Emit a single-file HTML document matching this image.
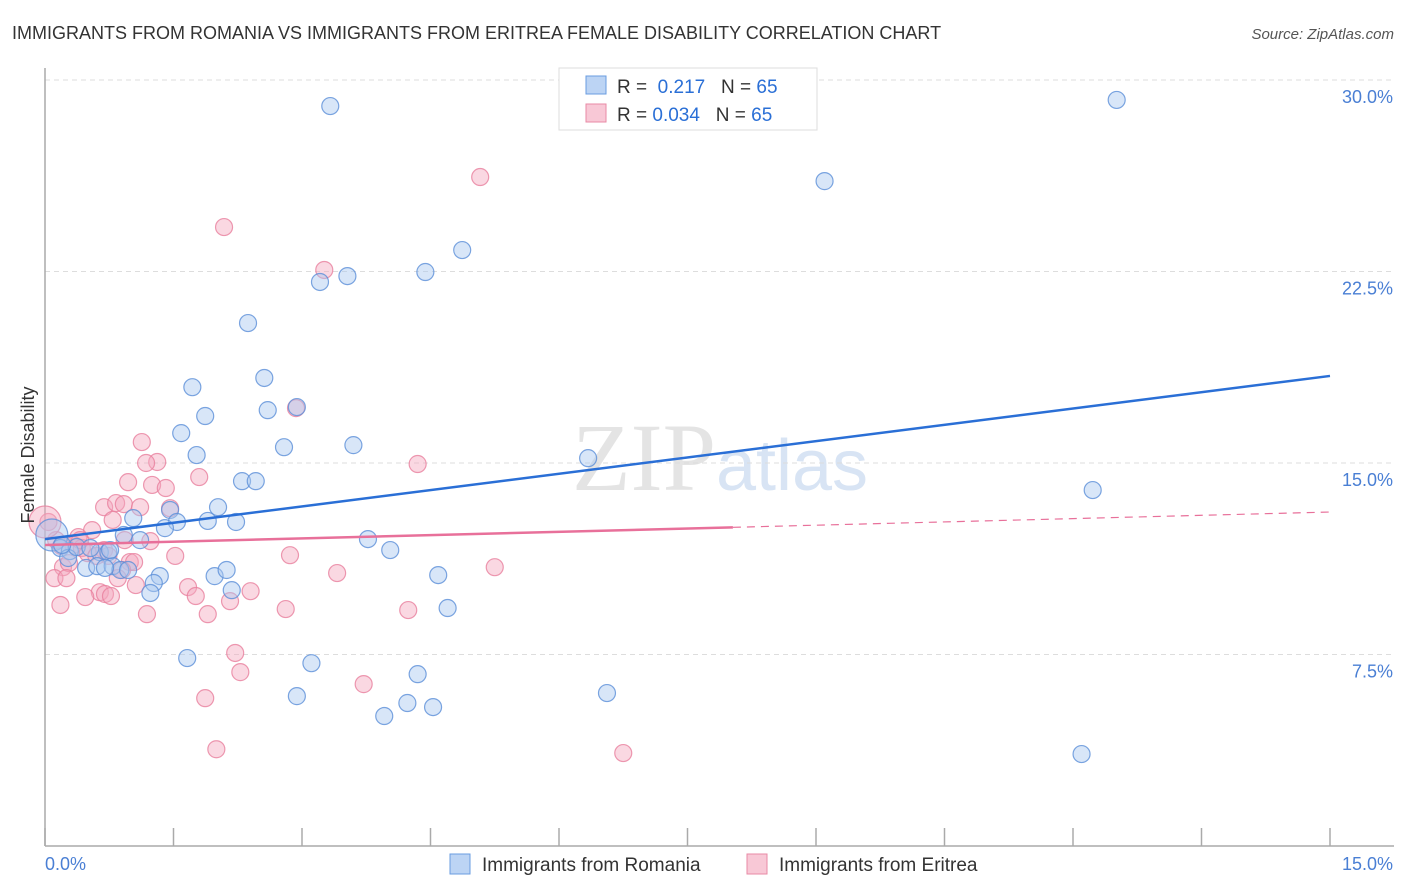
<!DOCTYPE html>
<html><head><meta charset="utf-8"><style>
body{margin:0;background:#fff;font-family:"Liberation Sans",sans-serif}
</style></head><body>
<svg width="1406" height="892" viewBox="0 0 1406 892" style="display:block">
<text x="12" y="39" font-size="18" fill="#333">IMMIGRANTS FROM ROMANIA VS IMMIGRANTS FROM ERITREA FEMALE DISABILITY CORRELATION CHART</text>
<text x="1394" y="39" font-size="15" fill="#555" font-style="italic" text-anchor="end">Source: ZipAtlas.com</text>
<text x="720" y="490" font-size="96" fill="#e4e4e4" text-anchor="middle" font-family="Liberation Serif,serif"><tspan>ZIP</tspan><tspan fill="#d8e4f4" font-family="Liberation Sans,sans-serif" font-size="72">atlas</tspan></text>
<g id="grid"></g>
<g id="axes"></g>
<g id="pts"></g>
<g id="lines"></g>
<text transform="translate(34,455) rotate(-90)" font-size="18" fill="#333" text-anchor="middle">Female Disability</text>
<text x="45" y="870" font-size="18" fill="#4a7fd4">0.0%</text>
<text x="1393" y="870" font-size="18" fill="#4a7fd4" text-anchor="end">15.0%</text>
<g>
<rect x="559" y="68" width="258" height="62" fill="#fff" stroke="#ddd"/>
<rect x="586" y="76" width="20" height="18" fill="#bcd4f4" stroke="#6a9ce0"/>
<rect x="586" y="104" width="20" height="18" fill="#f8c8d6" stroke="#e88aa5"/>
<text x="617" y="93" font-size="19" fill="#333">R = <tspan fill="#2a6fd6">&#160;0.217</tspan>&#160;&#160;&#160;N = <tspan fill="#2a6fd6">65</tspan></text>
<text x="617" y="121" font-size="19" fill="#333">R = <tspan fill="#2a6fd6">0.034</tspan>&#160;&#160;&#160;N = <tspan fill="#2a6fd6">65</tspan></text>
</g>
<g>
<rect x="450" y="854" width="20" height="20" fill="#bcd4f4" stroke="#6a9ce0"/>
<text x="482" y="871" font-size="19" fill="#333">Immigrants from Romania</text>
<rect x="747" y="854" width="20" height="20" fill="#f8c8d6" stroke="#e88aa5"/>
<text x="779" y="871" font-size="19" fill="#333">Immigrants from Eritrea</text>
</g>
</svg>
<script>
const yTicks=[7.5,15,22.5,30];
const yTickLabels=["7.5%","15.0%","22.5%","30.0%"];
const xTicks=[0,1.5,3,4.5,6,7.5,9,10.5,12,13.5,15];
const blueX=[3.33,12.51,9.10,4.87,4.44,3.53,3.21,2.37,2.56,1.72,2.60,2.94,1.87,1.59,2.79,3.60,1.77,6.34,2.30,2.46,12.23,2.02,1.46,1.90,2.23,1.54,1.03,1.40,0.92,1.11,3.77,4.03,0.08,0.18,0.29,0.64,0.74,0.27,0.48,0.61,0.79,0.88,0.97,1.34,1.27,1.23,1.98,2.12,2.18,4.59,4.70,1.66,3.11,4.35,2.94,6.56,4.23,4.53,3.96,12.10,0.37,0.53,0.76,0.20,0.70];
const blueY=[28.98,29.22,26.04,23.34,22.48,22.32,22.09,20.48,18.33,17.97,17.07,17.19,16.84,16.17,15.62,15.70,15.31,15.19,14.29,14.29,13.94,13.27,13.16,12.73,12.69,12.69,12.84,12.45,12.18,11.98,12.02,11.59,12.18,11.67,11.55,11.51,11.51,11.28,10.89,10.96,10.96,10.81,10.81,10.57,10.30,9.91,10.57,10.81,10.02,10.61,9.32,7.36,7.16,6.73,5.87,5.99,5.60,5.44,5.09,3.60,11.71,11.67,11.59,11.79,10.89];
const pinkX=[5.08,2.09,3.26,2.93,1.13,4.35,1.31,1.18,1.80,1.25,1.41,0.97,0.69,0.83,0.92,1.11,1.46,0.79,0.55,0.39,0.04,0.13,0.33,0.43,0.69,0.74,1.23,1.52,2.86,0.99,1.04,0.21,0.28,0.90,5.25,3.41,0.11,0.25,0.85,1.06,1.67,0.64,0.70,0.47,0.77,1.76,2.40,2.16,2.81,4.24,1.19,1.90,2.22,2.28,3.72,1.87,2.00,6.75,0.0,0.19,0.50,0.60,0.93,0.41,0.18];
const pinkY=[26.20,24.24,22.56,17.15,15.82,14.96,15.04,15.00,14.45,14.14,14.02,14.25,13.27,13.43,13.39,13.27,13.23,12.77,12.37,12.10,12.69,11.98,11.79,11.67,11.59,11.36,11.94,11.36,11.39,11.12,11.12,10.92,11.08,10.81,10.92,10.69,10.49,10.49,10.49,10.22,10.14,9.94,9.87,9.75,9.79,9.79,9.98,9.59,9.28,9.24,9.08,9.08,7.56,6.81,6.34,5.79,3.79,3.64,12.69,11.75,11.47,11.36,11.98,11.98,9.44];
const blueTrend=[12.02,18.41];
const pinkTrend=[11.79,13.08];
const pinkSolidEnd=8.03;
const NS='http://www.w3.org/2000/svg';
const X=v=>45+v/15*1285;
const Y=v=>846-v/30*766;
function mk(tag,attrs,parent){const e=document.createElementNS(NS,tag);for(const k in attrs)e.setAttribute(k,attrs[k]);parent.appendChild(e);return e;}
const grid=document.getElementById('grid'),axes=document.getElementById('axes'),pts=document.getElementById('pts'),lines=document.getElementById('lines');
yTicks.forEach((t,i)=>{
 const l=mk('line',{x1:45,x2:1394,y1:Y(t),y2:Y(t),stroke:'#ddd','stroke-dasharray':'5,4'},grid);
 
 
 const tx=mk('text',{x:1393,y:Y(t)+23,'font-size':18,fill:'#4a7fd4','text-anchor':'end'},grid);
 tx.textContent=yTickLabels[i];
 
 
});
const ya=mk('line',{x1:45,x2:45,y1:68,y2:846,stroke:'#aaa','stroke-width':1.5},axes);


const xa=mk('line',{x1:45,x2:1394,y1:846,y2:846,stroke:'#aaa','stroke-width':1.5},axes);


xTicks.forEach(t=>{
 const tk=mk('line',{x1:X(t),x2:X(t),y1:828,y2:846,stroke:'#aaa','stroke-width':1.5},axes);
 
 
});
function dots(xs,ys,fill,stroke,name){
 xs.forEach((x,i)=>{
  const big=(i===32&&name==='romania-point')||(i===58&&name==='eritrea-point');
  const c=mk('circle',{cx:X(x),cy:Y(ys[i]),r:big?16:8.5,fill:fill,'fill-opacity':0.45,stroke:stroke,'stroke-opacity':0.8,'stroke-width':1.2},pts);
  
  
 });
}
dots(pinkX,pinkY,'#f4a9bf','#e8809e','eritrea-point');
dots(blueX,blueY,'#a8c8f0','#5b8fd8','romania-point');
const bl=mk('line',{x1:X(0),y1:Y(blueTrend[0]),x2:X(15),y2:Y(blueTrend[1]),stroke:'#2a6fd6','stroke-width':2.5},lines);


const pm=pinkTrend[0]+(pinkTrend[1]-pinkTrend[0])*pinkSolidEnd/15;
const pl=mk('line',{x1:X(0),y1:Y(pinkTrend[0]),x2:X(pinkSolidEnd),y2:Y(pm),stroke:'#e8709a','stroke-width':2.5},lines);


const pd=mk('line',{x1:X(pinkSolidEnd),y1:Y(pm),x2:X(15),y2:Y(pinkTrend[1]),stroke:'#e8709a','stroke-width':1.2,'stroke-dasharray':'8,6'},lines);


</script>
</body></html>
